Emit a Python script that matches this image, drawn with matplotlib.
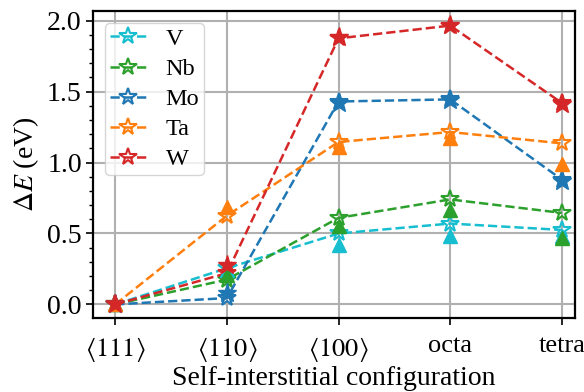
import numpy as np
import matplotlib
matplotlib.use("Agg")
import matplotlib.pyplot as plt

plt.rcParams['font.family'] = ['Liberation Serif', 'DejaVu Serif']
plt.rcParams['mathtext.fontset'] = 'stix'

configs = [r'$\langle 111\rangle$', r'$\langle 110\rangle$', r'$\langle 100\rangle$', 'octa', 'tetra']
elements = ['V', 'Nb', 'Mo', 'Ta', 'W']
colors = ['#17becf', '#2ca02c', '#1f77b4', '#ff7f0e', '#d62728']

# this work (open stars, dashed lines)
V_calc = [0.0, 0.255, 0.50, 0.57, 0.525]
Nb_calc = [0.0, 0.175, 0.61, 0.74, 0.645]
Mo_calc = [0.0, 0.045, 1.43, 1.445, 0.88]
Ta_calc = [0.0, 0.625, 1.145, 1.215, 1.135]
W_calc = [0.0, 0.22, 1.875, 1.965, 1.42]

# reference values (filled markers)
V_ref = [0.0, 0.24, 0.42, 0.48, 0.48]
Nb_ref = [0.0, 0.21, 0.55, 0.665, 0.47]
Mo_ref = [0.0, 0.08, 1.42, 1.44, 0.87]
Ta_ref = [0.0, 0.69, 1.11, 1.17, 0.99]
W_ref = [0.0, 0.28, 1.885, 1.97, 1.415]

calc = [V_calc, Nb_calc, Mo_calc, Ta_calc, W_calc]
ref = [V_ref, Nb_ref, Mo_ref, Ta_ref, W_ref]
ref_markers = ['^', '^', '*', '^', '*']

fig = plt.figure(figsize=(5.84, 3.92), dpi=100)
ax = fig.add_axes([0.159, 0.189, 0.826, 0.783])
x = np.arange(len(configs))

for el, c, yv in zip(elements, colors, calc):
    ax.plot(x, yv, ls='--', color=c, lw=1.8, marker='*', ms=13,
            mfc='none', mec=c, mew=1.5, label=el, zorder=3)
for el, c, yv, m in zip(elements, colors, ref, ref_markers):
    ax.plot(x, yv, ls='none', color=c, marker=m,
            ms=(14 if m == '*' else 10), zorder=4)

ax.set_xticks(x)
ax.set_xticklabels(configs, fontsize=19)
ax.set_yticks([0.0, 0.5, 1.0, 1.5, 2.0])
ax.set_yticks(np.arange(0, 2.01, 0.1), minor=True)
ax.tick_params(axis='y', labelsize=20, width=1.2, length=5, pad=3)
ax.tick_params(axis='y', which='minor', width=1.0, length=3)
ax.tick_params(axis='x', width=1.2, length=5, pad=7)
ax.set_xlim(-0.2, 4.12)
ax.set_ylim(-0.095, 2.068)
ax.grid(True, color='#b0b0b0', lw=1.5)
ax.set_axisbelow(True)
for s in ax.spines.values():
    s.set_linewidth(1.6)
ax.set_ylabel(r'$\Delta E$ (eV)', fontsize=20, labelpad=4)
ax.set_xlabel('Self-interstitial configuration', fontsize=20, labelpad=2)
ax.legend(loc='upper left', fontsize=17.5, handlelength=1.5, borderpad=0.2,
          labelspacing=0.33, handletextpad=0.8, framealpha=0.8,
          borderaxespad=0.5)

fig.savefig('out.png', dpi=100)
